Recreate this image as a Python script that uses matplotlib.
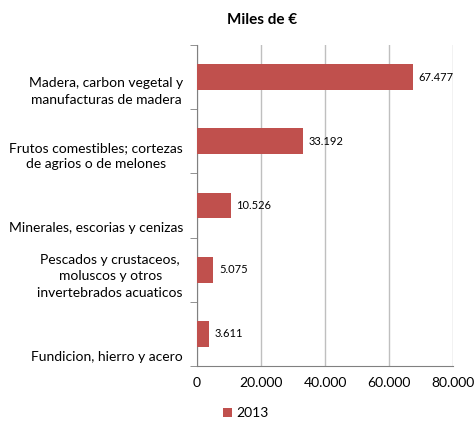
import numpy as np
import matplotlib.pyplot as plt
from matplotlib.ticker import FuncFormatter
import matplotlib.transforms as mtransforms

plt.rcParams['font.family'] = ['Lato', 'DejaVu Sans']

categories = ["Madera, carbon vegetal y\nmanufacturas de madera",
              "Frutos comestibles; cortezas\nde agrios o de melones",
              "Minerales, escorias y cenizas",
              "Pescados y crustaceos,\nmoluscos y otros\ninvertebrados acuaticos",
              "Fundicion, hierro y acero"]
values_2013 = [67477, 33192, 10526, 5075, 3611]
value_labels = ["67.477", "33.192", "10.526", "5.075", "3.611"]
series_name = "2013"

bar_color = '#C0504D'
grid_color = '#BFBFBF'

fig = plt.figure(figsize=(4.74, 4.21), dpi=100)
ax = fig.add_axes([0.4156, 0.1306, 0.5401, 0.7625])

y = np.arange(len(categories))
bars = ax.barh(y, values_2013, height=0.4, color=bar_color, label=series_name, zorder=3)
ax.set_ylim(len(categories) - 0.5, -0.5)
ax.set_xlim(0, 80000)
ax.set_xticks(np.arange(0, 80001, 20000))
ax.xaxis.set_major_formatter(FuncFormatter(lambda v, p: f"{int(v):,}".replace(",", ".")))
ax.tick_params(axis='x', length=0, labelsize=10, pad=8)
ax.grid(axis='x', color=grid_color, linewidth=1, zorder=0)

# category boundaries on the y axis
ax.set_yticks([])
ax.set_yticks(np.arange(-0.5, len(categories)), minor=True)
ax.tick_params(axis='y', which='minor', length=5, color='#808080', labelleft=False)

for s in ['top', 'right']:
    ax.spines[s].set_visible(False)
for s in ['left', 'bottom']:
    ax.spines[s].set_color('#808080')

# category labels, bottom aligned inside each band
trans = mtransforms.blended_transform_factory(ax.transAxes, ax.transData)
for i, cat in enumerate(categories):
    ax.text(-0.055, i + 0.45, cat, transform=trans, ha='right', va='bottom',
            multialignment='center', fontsize=10, linespacing=1.45)

for rect, lab in zip(bars, value_labels):
    ax.text(rect.get_width() + 1800, rect.get_y() + rect.get_height() / 2, lab,
            va='center', ha='left', fontsize=8)

fig.text(0.553, 1 - 20 / 421, "Miles de €", ha='center', va='center',
         fontsize=11, fontweight='bold')
ax.legend(loc='upper center', bbox_to_anchor=(0.19, -0.09), frameon=False,
          fontsize=10, handlelength=0.7, handleheight=0.7, handletextpad=0.3)

fig.savefig('out.png', dpi=100)
